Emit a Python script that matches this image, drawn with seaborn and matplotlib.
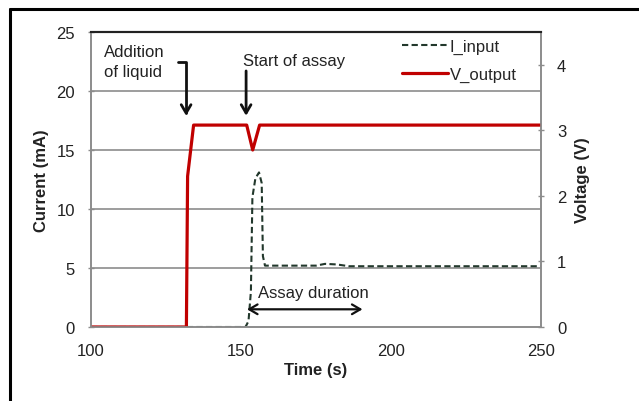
import matplotlib
matplotlib.use("Agg")
import matplotlib.pyplot as plt
from matplotlib.lines import Line2D
import seaborn as sns
import numpy as np

sns.set_style("white")
plt.rcParams['font.family'] = ['Liberation Sans', 'DejaVu Sans']

# Data
time_i = [100, 151.5, 152.5, 153.3, 153.8, 154.8, 156.0, 156.9, 157.3, 158, 175, 178, 182, 186, 250]
current = [0, 0, 0.5, 3, 11, 12.6, 13.1, 12.2, 6, 5.2, 5.2, 5.35, 5.3, 5.15, 5.15]
time_v = [100, 131.8, 132.2, 134.2, 151.9, 153.9, 156.2, 250]
voltage = [0, 0, 2.3, 3.08, 3.08, 2.7, 3.08, 3.08]

x_ticks = [100, 150, 200, 250]
i_ticks = [0, 5, 10, 15, 20, 25]
v_ticks = [0, 1, 2, 3, 4]

c_i = '#22382c'
c_v = '#c00000'
grey = '#8c8c8c'
txt = '#222222'

fig = plt.figure(figsize=(6.39, 4.02), dpi=100)
ax = fig.add_axes([91/639, 1-328/402, 450/639, 295/402])
ax2 = ax.twinx()

sns.lineplot(x=time_i, y=current, ax=ax, color=c_i, lw=1.5, sort=False,
             linestyle=(0, (3, 1.6)), label='I_input', legend=False)
sns.lineplot(x=time_v, y=voltage, ax=ax2, color=c_v, lw=2.3, sort=False,
             label='V_output', legend=False)

ax.set_xlim(100, 250)
ax.set_ylim(0, 25)
ax2.set_ylim(0, 4.5)
ax.set_xticks(x_ticks)
ax.set_yticks(i_ticks)
ax2.set_yticks(v_ticks)

for y in [5, 10, 15, 20]:
    ax.axhline(y, color=grey, lw=1.2, zorder=0)

for a in (ax, ax2):
    for s in ['left', 'right', 'bottom']:
        a.spines[s].set_color(grey)
        a.spines[s].set_linewidth(1.2)
    a.spines['top'].set_color(txt)
    a.spines['top'].set_linewidth(1.5)
    a.tick_params(colors=txt, labelsize=12, direction='inout', length=5, width=1)
    a.tick_params(axis='both', color=grey)
ax.tick_params(axis='y', pad=9)
ax.tick_params(axis='x', pad=9)
ax2.tick_params(axis='y', pad=9)

ax.set_xlabel('Time (s)', fontsize=12, fontweight='bold', labelpad=3, color=txt)
ax.set_ylabel('Current (mA)', fontsize=12, fontweight='bold', labelpad=5, color=txt)
ax2.set_ylabel('Voltage (V)', fontsize=12, fontweight='bold', labelpad=6, color=txt)

# Annotations
ax.text(104.3, 22.5, 'Addition\nof liquid', ha='left', va='center', fontsize=12,
        linespacing=1.35, color=txt)
ax.annotate('', xy=(131.7, 17.9), xytext=(129, 22.5),
            arrowprops=dict(arrowstyle='->,head_length=0.6,head_width=0.35', lw=2,
                            color='#111111',
                            connectionstyle='angle,angleA=0,angleB=90,rad=0',
                            shrinkA=0, shrinkB=0))
ax.text(150.7, 22.6, 'Start of assay', ha='left', va='center', fontsize=12, color=txt)
ax.annotate('', xy=(151.7, 17.9), xytext=(151.7, 21.7),
            arrowprops=dict(arrowstyle='->,head_length=0.6,head_width=0.35', lw=2,
                            color='#111111', shrinkA=0, shrinkB=0))
ax.text(155.7, 2.9, 'Assay duration', ha='left', va='center', fontsize=12, color=txt)
ax.annotate('', xy=(152, 1.5), xytext=(190.5, 1.5),
            arrowprops=dict(arrowstyle='<->,head_length=0.6,head_width=0.35', lw=1.6,
                            color='#111111', shrinkA=0, shrinkB=0))

handles = [Line2D([], [], color=c_i, lw=1.5, linestyle=(0, (3, 1.6))),
           Line2D([], [], color=c_v, lw=2.3)]
ax2.legend(handles, ['I_input', 'V_output'], loc='upper right', frameon=False,
           fontsize=12, handlelength=2.75, handletextpad=0.1, labelspacing=0.75,
           borderaxespad=0.2, bbox_to_anchor=(0.968, 1.01))

# figure frame (left and top lines)
fig.add_artist(Line2D([10/639, 10/639], [0, 1-10/402], color='black', lw=2.2,
                      transform=fig.transFigure))
fig.add_artist(Line2D([10/639, 1], [1-10/402, 1-10/402], color='black', lw=2.2,
                      transform=fig.transFigure))

fig.savefig('out.png', dpi=100)
